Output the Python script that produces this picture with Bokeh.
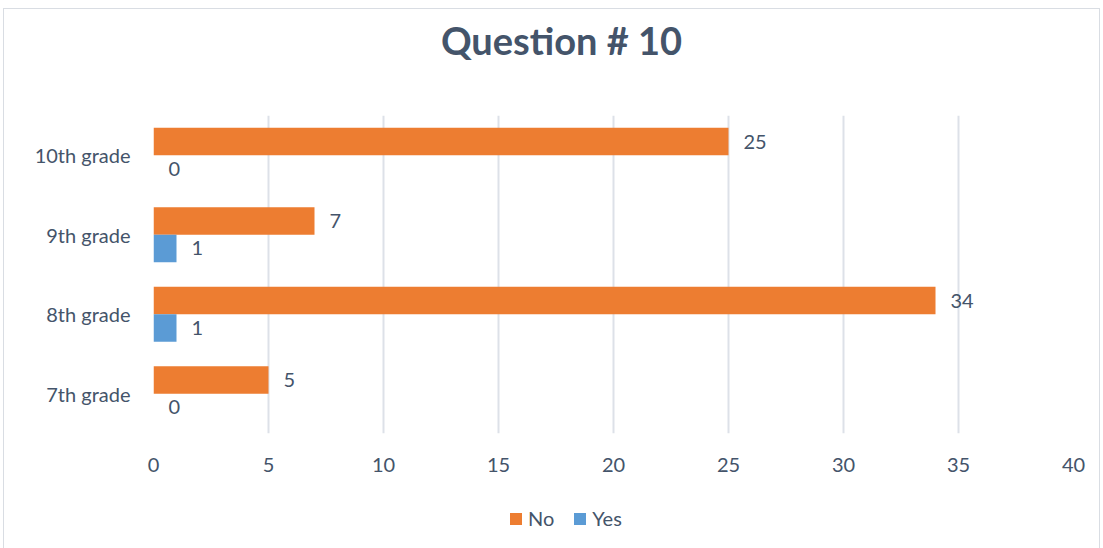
from bokeh.plotting import figure
from bokeh.layouts import column
from bokeh.models import ColumnDataSource, FactorRange, Range1d, Label, Legend, LegendItem, FixedTicker
from bokeh.transform import dodge
from bokeh.core.properties import value
from bokeh.embed import file_html
from bokeh.resources import INLINE

grades = ["7th grade", "8th grade", "9th grade", "10th grade"]
no_vals = [5, 34, 7, 25]
yes_vals = [0, 1, 1, 0]
x_ticks = [0, 5, 10, 15, 20, 25, 30, 35, 40]
title_text = "Question # 10"
series = ["No", "Yes"]
colors = ["#ed7d31", "#5b9bd5"]

TXT = "#44546a"
FONT = "Lato"
W = 1095

src = ColumnDataSource(dict(grade=grades, no=no_vals, yes=yes_vals,
                            no_lbl=[str(v) for v in no_vals],
                            yes_lbl=[str(v) for v in yes_vals]))

def bare(fig):
    fig.outline_line_color = None
    fig.border_fill_color = "white"
    fig.background_fill_color = "white"
    fig.frame_align = False
    return fig

# title strip
p0 = bare(figure(width=W, height=60, x_range=Range1d(0, 1), y_range=Range1d(0, 1),
                 output_backend="svg", toolbar_location=None,
                 x_axis_location=None, y_axis_location=None,
                 min_border=0, min_border_left=0, min_border_right=0,
                 min_border_top=0, min_border_bottom=0))
p0.grid.visible = False
p0.add_layout(Label(x=557, y=30, x_units="screen", y_units="screen", text=title_text,
                    text_font=FONT, text_font_style="bold", text_font_size="38px",
                    text_color=TXT, text_align="center", text_baseline="middle"))

# main chart
p = bare(figure(width=W, height=424, y_range=FactorRange(*grades, range_padding=0),
                x_range=Range1d(0, 40), output_backend="svg", toolbar_location=None,
                min_border_left=149, min_border_right=26, min_border_top=46, min_border_bottom=60))

def draw_bars(fig):
    rn = fig.hbar(y=dodge("grade", 0.172, range=fig.y_range), right="no", left=0, height=0.345,
                  source=src, fill_color=colors[0], line_color=None)
    ry = fig.hbar(y=dodge("grade", -0.172, range=fig.y_range), right="yes", left=0, height=0.345,
                  source=src, fill_color=colors[1], line_color=None)
    return rn, ry

draw_bars(p)

p.text(x="no", y=dodge("grade", 0.172, range=p.y_range), text="no_lbl", source=src,
       x_offset=15, text_align="left", text_baseline="middle", text_font=value(FONT),
       text_font_size="20px", text_color=TXT)
p.text(x="yes", y=dodge("grade", -0.172, range=p.y_range), text="yes_lbl", source=src,
       x_offset=15, text_align="left", text_baseline="middle", text_font=value(FONT),
       text_font_size="20px", text_color=TXT)

p.xaxis.ticker = FixedTicker(ticks=x_ticks)
p.xgrid.ticker = FixedTicker(ticks=x_ticks)
p.xgrid.grid_line_color = "#dde1e8"
p.xgrid.grid_line_width = 2
p.ygrid.grid_line_color = None

for ax in (p.xaxis[0], p.yaxis[0]):
    ax.axis_line_color = None
    ax.major_tick_line_color = None
    ax.minor_tick_line_color = None
    ax.major_label_text_font = FONT
    ax.major_label_text_font_size = "20px"
    ax.major_label_text_color = TXT
p.xaxis.major_label_standoff = 18
p.yaxis.major_label_standoff = 17

# legend strip (hidden copies of the series provide the legend swatches)
p2 = bare(figure(width=W, height=55, x_range=p.x_range, y_range=p.y_range,
                 output_backend="svg", toolbar_location=None,
                 x_axis_location=None, y_axis_location=None,
                 min_border=0, min_border_left=0, min_border_right=0,
                 min_border_top=0, min_border_bottom=0))
p2.grid.visible = False
leg_r = draw_bars(p2)
for r in leg_r:
    r.visible = False
legend = Legend(items=[LegendItem(label=s, renderers=[r]) for s, r in zip(series, leg_r)],
                orientation="horizontal", location=(504, 18), padding=0, margin=0,
                label_text_font=FONT, label_text_font_size="20px", label_text_color=TXT,
                glyph_width=15, glyph_height=15, spacing=18, label_standoff=5,
                inactive_fill_alpha=0, border_line_color=None, background_fill_alpha=0)
p2.add_layout(legend, "center")

layout = column(p0, p, p2, spacing=0,
                styles={"margin-left": "3px", "margin-top": "8px", "border": "1px solid #d9dde3"})

open("out.html", "w").write(file_html(layout, INLINE))
